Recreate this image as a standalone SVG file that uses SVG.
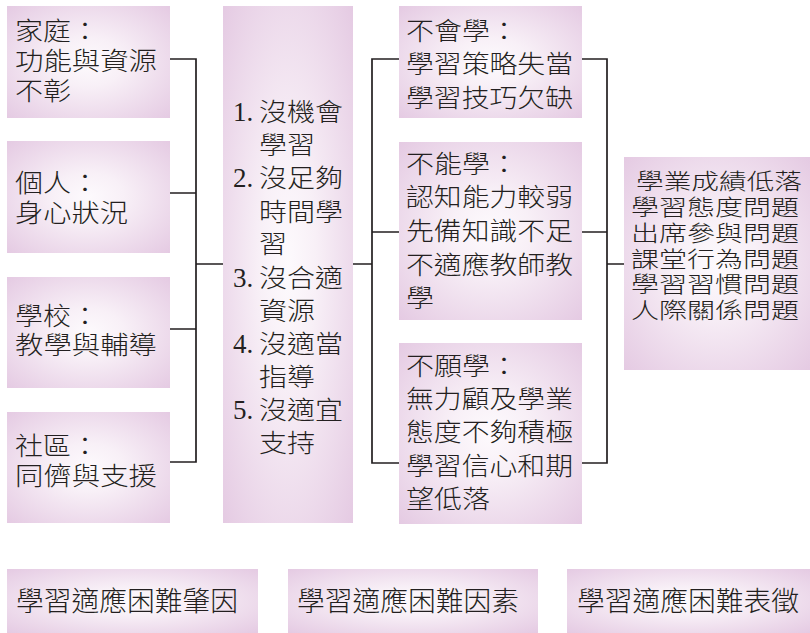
<svg xmlns="http://www.w3.org/2000/svg" width="810" height="633" viewBox="0 0 810 633">
<defs>
<radialGradient id="g" cx="50%" cy="50%" r="72%">
<stop offset="0" stop-color="#fdfafd"/>
<stop offset="0.3" stop-color="#f8f0f7"/>
<stop offset="1" stop-color="#e4c9e2"/>
</radialGradient>
<style>
.box{fill:url(#g);}
.t{font-family:"Noto Sans CJK TC","Noto Sans CJK JP",sans-serif;font-size:25px;font-weight:300;fill:#231f20;}
.b{font-size:27px;}
.s{font-size:22px;}
.n{font-family:"Liberation Serif","Noto Sans CJK TC",serif;font-size:27px;fill:#231f20;}
.c{fill:none;stroke:#231f20;stroke-width:1.7;}
</style>
</defs>
<rect width="810" height="633" fill="#ffffff"/>

<g id="connectors">
<path class="c" d="M170,59 H196 V462 H170 M170,193 H196 M170,329 H196 M196,264 H223"/>
<path class="c" d="M399,59 H372 V463 H399 M372,232 H399 M353,264 H372"/>
<path class="c" d="M582,59 H607 V463 H582 M582,232 H607 M607,264 H624"/>
</g>

<g id="family">
<rect class="box" x="7" y="6" width="163" height="112"/>
<text class="t" x="15" y="40" textLength="84" lengthAdjust="spacingAndGlyphs">家庭：</text>
<text class="t" x="15" y="70" textLength="142" lengthAdjust="spacingAndGlyphs">功能與資源</text>
<text class="t" x="15" y="100" textLength="56" lengthAdjust="spacingAndGlyphs">不彰</text>
</g>
<g id="personal">
<rect class="box" x="7" y="141" width="163" height="112"/>
<text class="t" x="15" y="192" textLength="84" lengthAdjust="spacingAndGlyphs">個人：</text>
<text class="t" x="15" y="222" textLength="113" lengthAdjust="spacingAndGlyphs">身心狀況</text>
</g>
<g id="school">
<rect class="box" x="7" y="277" width="163" height="111"/>
<text class="t" x="15" y="325" textLength="84" lengthAdjust="spacingAndGlyphs">學校：</text>
<text class="t" x="15" y="354" textLength="142" lengthAdjust="spacingAndGlyphs">教學與輔導</text>
</g>
<g id="community">
<rect class="box" x="7" y="412" width="163" height="111"/>
<text class="t" x="15" y="455" textLength="84" lengthAdjust="spacingAndGlyphs">社區：</text>
<text class="t" x="15" y="485" textLength="142" lengthAdjust="spacingAndGlyphs">同儕與支援</text>
</g>

<g id="lacks">
<rect class="box" x="223" y="6" width="130" height="517"/>
<text class="n" x="233" y="121">1.</text>
<text class="t" x="259" y="121" textLength="84" lengthAdjust="spacingAndGlyphs">沒機會</text>
<text class="t" x="259" y="154" textLength="56" lengthAdjust="spacingAndGlyphs">學習</text>
<text class="n" x="233" y="187">2.</text>
<text class="t" x="259" y="187" textLength="84" lengthAdjust="spacingAndGlyphs">沒足夠</text>
<text class="t" x="259" y="221" textLength="84" lengthAdjust="spacingAndGlyphs">時間學</text>
<text class="t" x="259" y="253" textLength="28" lengthAdjust="spacingAndGlyphs">習</text>
<text class="n" x="233" y="287">3.</text>
<text class="t" x="259" y="287" textLength="84" lengthAdjust="spacingAndGlyphs">沒合適</text>
<text class="t" x="259" y="320" textLength="56" lengthAdjust="spacingAndGlyphs">資源</text>
<text class="n" x="233" y="353">4.</text>
<text class="t" x="259" y="353" textLength="84" lengthAdjust="spacingAndGlyphs">沒適當</text>
<text class="t" x="259" y="386" textLength="56" lengthAdjust="spacingAndGlyphs">指導</text>
<text class="n" x="233" y="419">5.</text>
<text class="t" x="259" y="419" textLength="84" lengthAdjust="spacingAndGlyphs">沒適宜</text>
<text class="t" x="259" y="452" textLength="56" lengthAdjust="spacingAndGlyphs">支持</text>
</g>

<g id="cannot-learn-how">
<rect class="box" x="399" y="6" width="183" height="112"/>
<text class="t" x="406" y="40" textLength="112" lengthAdjust="spacingAndGlyphs">不會學：</text>
<text class="t" x="406" y="73" textLength="167" lengthAdjust="spacingAndGlyphs">學習策略失當</text>
<text class="t" x="406" y="107" textLength="167" lengthAdjust="spacingAndGlyphs">學習技巧欠缺</text>
</g>
<g id="unable">
<rect class="box" x="399" y="142" width="183" height="178"/>
<text class="t" x="406" y="173" textLength="112" lengthAdjust="spacingAndGlyphs">不能學：</text>
<text class="t" x="406" y="206" textLength="167" lengthAdjust="spacingAndGlyphs">認知能力較弱</text>
<text class="t" x="406" y="240" textLength="167" lengthAdjust="spacingAndGlyphs">先備知識不足</text>
<text class="t" x="406" y="274" textLength="167" lengthAdjust="spacingAndGlyphs">不適應教師教</text>
<text class="t" x="406" y="307" textLength="28" lengthAdjust="spacingAndGlyphs">學</text>
</g>
<g id="unwilling">
<rect class="box" x="399" y="343" width="183" height="181"/>
<text class="t" x="406" y="375" textLength="112" lengthAdjust="spacingAndGlyphs">不願學：</text>
<text class="t" x="406" y="408" textLength="167" lengthAdjust="spacingAndGlyphs">無力顧及學業</text>
<text class="t" x="406" y="441" textLength="167" lengthAdjust="spacingAndGlyphs">態度不夠積極</text>
<text class="t" x="406" y="475" textLength="167" lengthAdjust="spacingAndGlyphs">學習信心和期</text>
<text class="t" x="406" y="508" textLength="84" lengthAdjust="spacingAndGlyphs">望低落</text>
</g>

<g id="symptoms">
<rect class="box" x="624" y="157" width="186" height="213"/>
<text class="t s" x="636" y="189" textLength="166" lengthAdjust="spacingAndGlyphs">學業成績低落</text>
<text class="t s" x="631" y="215" textLength="168" lengthAdjust="spacingAndGlyphs">學習態度問題</text>
<text class="t s" x="631" y="241" textLength="168" lengthAdjust="spacingAndGlyphs">出席參與問題</text>
<text class="t s" x="631" y="267" textLength="168" lengthAdjust="spacingAndGlyphs">課堂行為問題</text>
<text class="t s" x="631" y="292" textLength="168" lengthAdjust="spacingAndGlyphs">學習習慣問題</text>
<text class="t s" x="631" y="318" textLength="168" lengthAdjust="spacingAndGlyphs">人際關係問題</text>
</g>

<g id="label-causes">
<rect class="box" x="7" y="569" width="251" height="64"/>
<text class="t b" x="16" y="611" textLength="222" lengthAdjust="spacingAndGlyphs">學習適應困難肇因</text>
</g>
<g id="label-factors">
<rect class="box" x="288" y="569" width="250" height="64"/>
<text class="t b" x="297" y="611" textLength="222" lengthAdjust="spacingAndGlyphs">學習適應困難因素</text>
</g>
<g id="label-signs">
<rect class="box" x="567" y="569" width="243" height="64"/>
<text class="t b" x="577" y="611" textLength="222" lengthAdjust="spacingAndGlyphs">學習適應困難表徵</text>
</g>
</svg>
